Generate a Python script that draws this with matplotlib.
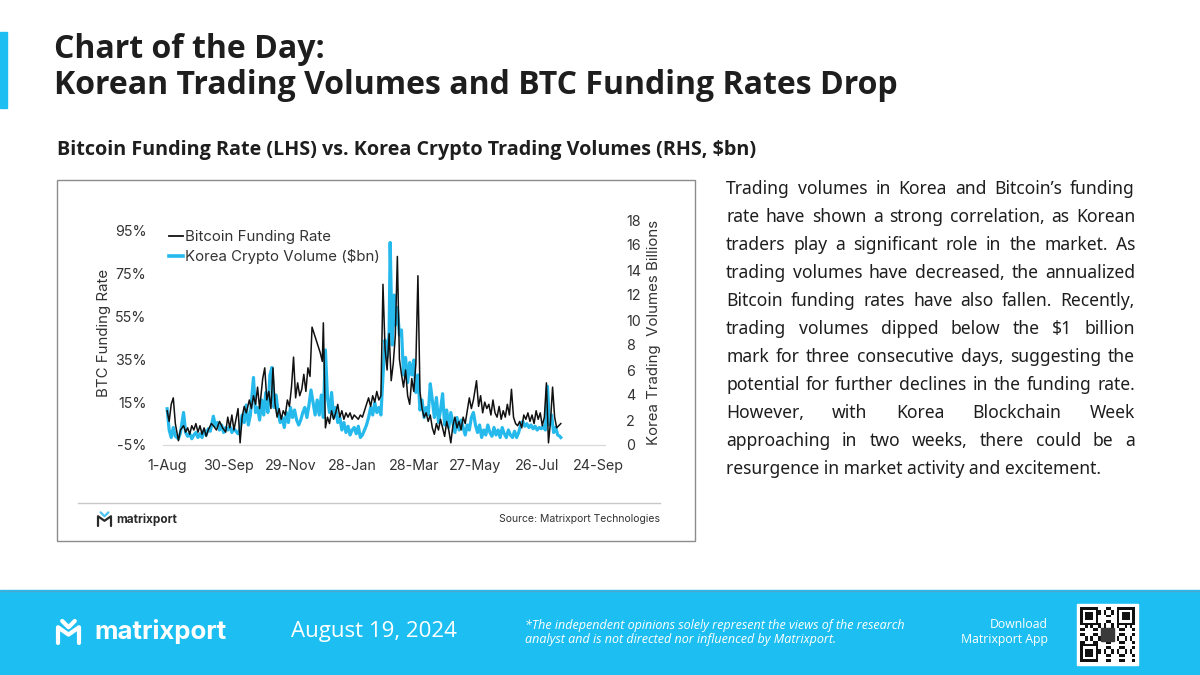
import matplotlib
matplotlib.use('Agg')
import matplotlib.pyplot as plt
import matplotlib.patches as mpatches
from matplotlib.lines import Line2D
import pandas as pd

W, H = 1200, 675

# Bitcoin funding rate (annualised, %), days since 1-Aug-2023
funding_day = [0, 2, 4, 6, 8, 11, 13, 16, 18, 20, 22, 24, 26, 28, 30, 32, 34, 36, 38, 40,
               43, 45, 48, 51, 54, 57, 59, 61, 63, 65, 67, 69, 71, 73, 75, 77, 80, 82, 84, 86,
               88, 90, 93, 95, 97, 99, 101, 103, 105, 107, 109, 111, 113, 115, 117, 119, 121, 123, 125, 127,
               129, 131, 133, 135, 137, 139, 141, 145, 149, 151, 152, 154, 156, 158, 160, 162, 164, 166, 168, 170,
               172, 174, 176, 178, 180, 182, 184, 186, 188, 190, 192, 194, 196, 198, 200, 202, 204, 206, 208, 210,
               212, 214, 216, 218, 220, 222, 224, 226, 228, 230, 232, 234, 236, 238, 240, 242, 244, 246, 248, 250,
               252, 254, 256, 258, 260, 262, 264, 266, 268, 270, 272, 274, 276, 278, 280, 282, 284, 286, 288, 290,
               292, 294, 296, 298, 301, 303, 305, 307, 309, 311, 313, 315, 317, 319, 321, 323, 325, 327, 329, 331,
               333, 335, 337, 339, 341, 343, 345, 347, 349, 351, 353, 355, 357, 359, 361, 363, 365, 367, 369, 371,
               373, 375, 377, 379, 381, 383]
funding_pct = [11, 6, 14, 17, 5, -3, 2, 4, 1, 3, 0, 4, 2, 5, 1, 4, 0, 3, -1, 2,
               5, 4, 2, 6, 3, 1, 8, 3, 9, 2, 7, 12, -4, 8, 13, 10, 16, 12, 18, 14,
               22, 12, 26, 31, 16, 20, 12, 31, 14, 8, 12, 7, 11, 9, 16, 13, 22, 36, 17, 24,
               18, 21, 28, 20, 31, 27, 50, 44, 38, 34, 52, 3, 8, 5, 11, 7, 10, 14, 8, 11,
               7, 10, 8, 10, 7, 9, 8, 7, 9, 8, 11, 14, 17, 13, 18, 15, 20, 16, 18, 70,
               40, 30, 47, 25, 33, 46, 83, 35, 28, 22, 30, 18, 14, 26, 20, 33, 74, 20, 12, 8,
               10, 6, 9, 3, 0, 5, 2, 7, 3, -1, 6, 2, -4, 4, 8, 3, 6, 2, 8, 5,
               11, 17, 12, 16, 25, 13, 18, 10, 15, 12, 14, 9, 16, 10, 8, 13, 7, 11, 8, 14,
               9, 21, 8, 5, 4, 6, 3, 9, 7, 10, 6, 9, 5, 11, 7, 10, 4, 8, 24, -4,
               6, 22, 8, 3, 4, 5]

# Korea crypto trading volume ($bn), days since 1-Aug-2023
volume_day = [0, 2, 4, 6, 8, 11, 13, 16, 18, 20, 22, 24, 26, 28, 30, 32, 34, 36, 38, 40,
              42, 45, 47, 49, 51, 53, 55, 57, 59, 61, 63, 65, 67, 69, 71, 73, 75, 77, 79, 81,
              84, 86, 88, 90, 92, 94, 96, 98, 100, 102, 104, 106, 108, 110, 112, 114, 116, 118, 120, 122,
              124, 126, 128, 130, 132, 134, 136, 138, 140, 142, 144, 146, 148, 150, 152, 154, 156, 158, 160, 162,
              164, 166, 168, 170, 172, 174, 176, 178, 180, 182, 184, 186, 188, 190, 192, 194, 196, 198, 200, 202,
              204, 206, 208, 210, 212, 214, 216, 217, 219, 221, 222, 224, 226, 228, 230, 232, 234, 236, 238, 240,
              242, 244, 246, 248, 250, 252, 254, 256, 258, 260, 262, 264, 266, 268, 270, 272, 274, 276, 278, 280,
              282, 284, 286, 288, 290, 292, 294, 296, 298, 300, 302, 304, 306, 308, 310, 312, 314, 316, 318, 320,
              322, 324, 326, 328, 330, 332, 334, 336, 338, 340, 342, 344, 346, 348, 350, 352, 354, 356, 358, 360,
              362, 364, 366, 368, 370, 372, 374, 376, 378, 380, 382, 383]
volume_bn = [2.9, 1.2, 0.6, 1.4, 0.7, 0.5, 1.0, 2.6, 1.0, 0.7, 0.9, 0.5, 0.8, 1.0, 0.6, 0.9, 0.6, 1.2, 0.8, 1.3,
             1.1, 2.3, 1.5, 1.8, 1.2, 1.6, 1.0, 1.4, 1.2, 1.5, 1.0, 1.3, 1.1, 0.9, 1.3, 2.4, 1.8, 3.2, 1.6, 2.4,
             5.4, 2.6, 3.0, 2.0, 3.6, 2.4, 4.2, 2.6, 5.6, 6.2, 3.0, 4.0, 2.6, 1.8, 2.2, 1.4, 2.6, 1.8, 3.0, 2.2,
             2.8, 2.0, 1.6, 2.0, 2.6, 3.0, 2.2, 3.2, 4.4, 3.4, 2.4, 3.6, 2.4, 4.0, 2.2, 7.6, 3.8, 2.6, 4.2, 2.2,
             3.0, 1.8, 2.2, 1.2, 1.8, 1.0, 1.5, 0.8, 1.2, 1.4, 0.9, 1.5, 0.6, 0.8, 1.2, 1.6, 2.2, 3.0, 2.4, 3.4,
             2.6, 3.0, 2.4, 5.5, 8.4, 7.0, 9.0, 16.2, 8.0, 12.0, 9.6, 11.0, 8.8, 9.2, 5.6, 7.0, 5.0, 6.6, 5.6, 6.8,
             4.2, 5.6, 2.8, 3.6, 2.2, 3.0, 2.4, 4.9, 3.6, 2.2, 3.8, 1.8, 2.8, 4.1, 1.6, 2.8, 1.4, 2.6, 1.8, 1.0,
             2.2, 1.2, 2.0, 1.4, 0.8, 1.6, 1.2, 2.2, 2.6, 1.6, 1.0, 1.6, 0.6, 1.2, 0.8, 1.6, 1.0, 0.7, 1.4, 0.8,
             1.2, 0.6, 1.4, 0.9, 0.6, 1.2, 0.8, 0.6, 1.1, 0.6, 1.0, 1.6, 1.9, 1.5, 1.7, 1.4, 1.6, 1.3, 1.5, 1.2,
             1.4, 1.3, 1.5, 1.2, 4.7, 1.6, 2.4, 1.0, 1.4, 0.8, 0.7, 0.6]

start = pd.Timestamp('2023-08-01')
tick_days = [0, 60, 120, 180, 240, 300, 360, 420]
tick_labels = ['1-Aug', '30-Sep', '29-Nov', '28-Jan', '28-Mar', '27-May', '26-Jul', '24-Sep']
left_ticks = [-5, 15, 35, 55, 75, 95]
right_ticks = [0, 2, 4, 6, 8, 10, 12, 14, 16, 18]

body_lines = [
    "Trading volumes in Korea and Bitcoin\u2019s funding",
    "rate have shown a strong correlation, as Korean",
    "traders play a significant role in the market. As",
    "trading volumes have decreased, the annualized",
    "Bitcoin funding rates have also fallen. Recently,",
    "trading volumes dipped below the $1 billion",
    "mark for three consecutive days, suggesting the",
    "potential for further declines in the funding rate.",
    "However, with Korea Blockchain Week",
    "approaching in two weeks, there could be a",
    "resurgence in market activity and excitement.",
]

CYAN = '#1dbff2'
LINE_BLUE = '#25b9ec'
DARK = '#1e1e1e'


def fx(x):
    return x / W


def fy(y):
    return 1 - y / H


fig = plt.figure(figsize=(12, 6.75), dpi=100)
fig.patch.set_facecolor('white')

# header
fig.patches.append(mpatches.Rectangle((0, fy(108)), fx(7), (108 - 32) / H,
                                      transform=fig.transFigure, color=CYAN, zorder=1))
fig.text(fx(54), fy(49), "Chart of the Day:", fontsize=23, fontweight='bold',
         family='Open Sans', color=DARK, va='center')
fig.text(fx(54), fy(85), "Korean Trading Volumes and BTC Funding Rates Drop", fontsize=23,
         fontweight='bold', family='Open Sans', color=DARK, va='center')
fig.text(fx(57), fy(150), "Bitcoin Funding Rate (LHS) vs. Korea Crypto Trading Volumes (RHS, $bn)",
         fontsize=14.2, fontweight='bold', family='Open Sans', color=DARK, va='center')

# chart frame
fig.patches.append(mpatches.Rectangle((fx(57), fy(541)), (695 - 57) / W, (541 - 180) / H,
                                      transform=fig.transFigure, fill=False,
                                      edgecolor='#8c8c8c', lw=1, zorder=1))
fig.add_artist(Line2D([fx(78), fx(660)], [fy(503), fy(503)], color='#c8c8c8', lw=1))
fig.text(fx(660), fy(519), "Source: Matrixport Technologies", fontsize=7.5, family='Inter',
         color='#333333', ha='right', va='center')


def logo(x0, y0, s, col, top_col, lw):
    # little "M" mark with a chevron on top
    xs = [x0, x0, x0 + s / 2, x0 + s, x0 + s]
    ys = [y0 + s, y0 + s * 0.25, y0 + s * 0.6, y0 + s * 0.25, y0 + s]
    fig.add_artist(Line2D([fx(v) for v in xs], [fy(v) for v in ys], color=col, lw=lw,
                          solid_joinstyle='round', solid_capstyle='round'))
    fig.add_artist(Line2D([fx(x0 + s * 0.2), fx(x0 + s / 2), fx(x0 + s * 0.8)],
                          [fy(y0 - s * 0.05), fy(y0 + s * 0.25), fy(y0 - s * 0.05)],
                          color=top_col, lw=lw, solid_joinstyle='round', solid_capstyle='round'))


logo(98, 513, 13, '#2a2a2a', '#4cc3ee', 1.6)
fig.text(fx(116), fy(520), "matrixport", fontsize=8.5, fontweight='bold', family='Inter',
         color='#2a2a2a', va='center')

# plot
ax = fig.add_axes([fx(163), fy(445), (605 - 163) / W, (445 - 220) / H])
ax2 = ax.twinx()
ax.set_zorder(ax2.get_zorder() + 1)
ax.patch.set_visible(False)

f_dates = start + pd.to_timedelta(funding_day, unit='D')
v_dates = start + pd.to_timedelta(volume_day, unit='D')
ax2.plot(v_dates, volume_bn, color=LINE_BLUE, lw=2.3, solid_joinstyle='round')
ax.plot(f_dates, funding_pct, color='#111111', lw=1.1, solid_joinstyle='round')

ax.set_xlim(start - pd.Timedelta(days=4), start + pd.Timedelta(days=426))
ax.set_ylim(-5, 100)
ax2.set_ylim(0, 18)
ax.set_xticks(start + pd.to_timedelta(tick_days, unit='D'))
ax.set_xticklabels(tick_labels)
ax.set_yticks(left_ticks)
ax.set_yticklabels([f"{v}%" for v in left_ticks])
ax2.set_yticks(right_ticks)

for a in (ax, ax2):
    for side in ('top', 'left', 'right'):
        a.spines[side].set_visible(False)
    a.spines['bottom'].set_color('#d9d9d9')
    a.tick_params(length=0, labelsize=10.3, labelcolor='#333333')
    for lab in a.get_xticklabels() + a.get_yticklabels():
        lab.set_family('Inter')
ax.tick_params(axis='x', pad=10)
ax.tick_params(axis='y', pad=12)
ax2.tick_params(axis='y', pad=15)

ax.set_ylabel("BTC Funding Rate", fontsize=10.8, family='Inter', color='#333333', labelpad=3)
ax2.set_ylabel("Korea Trading  Volumes Billions", fontsize=10.8, family='Inter',
               color='#333333', labelpad=4)

handles = [Line2D([], [], color='#111111', lw=1.3), Line2D([], [], color=LINE_BLUE, lw=2.6)]
leg = ax.legend(handles, ["Bitcoin Funding Rate", "Korea Crypto Volume ($bn)"], loc='upper left',
                bbox_to_anchor=(0.0, 0.98), frameon=False, handlelength=0.9, handletextpad=0.15,
                labelspacing=0.3, borderaxespad=0, prop={'family': 'Inter', 'size': 10.8})
for t in leg.get_texts():
    t.set_color('#333333')

# justified commentary on the right
renderer = fig.canvas.get_renderer()
x_left, x_right, y_first, step = 726, 1135, 189, 28
body_size = 12.6
for k, line in enumerate(body_lines):
    y = y_first + k * step
    if k == len(body_lines) - 1:
        fig.text(fx(x_left), fy(y), line, fontsize=body_size, family='Noto Sans', color=DARK,
                 va='center')
        continue
    words = line.split()
    texts = [fig.text(0, 0, w, fontsize=body_size, family='Noto Sans', color=DARK, va='center')
             for w in words]
    widths = [t.get_window_extent(renderer).width for t in texts]
    gap = (x_right - x_left - sum(widths)) / (len(words) - 1)
    x = x_left
    for t, w in zip(texts, widths):
        t.set_position((fx(x), fy(y)))
        x += w + gap

# footer band
fig.patches.append(mpatches.Rectangle((0, 0), 1, (675 - 590) / H, transform=fig.transFigure,
                                      color=CYAN, zorder=0))
fig.add_artist(Line2D([0, 1], [fy(590.5), fy(590.5)], color='#4aa9cf', lw=1))
logo(58, 622, 21, 'white', 'white', 3)
fig.text(fx(94), fy(632), "matrixport", fontsize=18.5, fontweight='bold', family='Inter',
         color='white', va='center')
fig.text(fx(291), fy(631), "August 19, 2024", fontsize=16, family='Open Sans',
         color='white', va='center')
fig.text(fx(525), fy(625), "*The independent opinions solely represent the views of the research",
         fontsize=9, style='italic', family='Open Sans', color='white', va='center')
fig.text(fx(525), fy(640), "analyst and is not directed nor influenced by Matrixport.",
         fontsize=9, style='italic', family='Open Sans', color='white', va='center')
fig.text(fx(1048), fy(625), "Download", fontsize=8.8, family='Open Sans', color='white',
         ha='right', va='center')
fig.text(fx(1048), fy(640), "Matrixport App", fontsize=8.8, family='Open Sans', color='white',
         ha='right', va='center')

# QR-style badge
qx, qy, qs = 1077, 604, 61
fig.patches.append(mpatches.Rectangle((fx(qx), fy(qy + qs)), qs / W, qs / H,
                                      transform=fig.transFigure, color='white', zorder=2))
cell = (qs - 6) / 21
for i in range(21):
    for j in range(21):
        in_finder = (i < 7 and j < 7) or (i < 7 and j > 13) or (i > 13 and j < 7)
        if in_finder:
            a, b = i % 14, j % 14
            dark = a in (0, 6) or b in (0, 6) or (2 <= a <= 4 and 2 <= b <= 4)
        else:
            dark = (i * 7 + j * 11 + i * j) % 5 < 2
        if dark:
            fig.patches.append(mpatches.Rectangle(
                (fx(qx + 3 + j * cell), fy(qy + 3 + (i + 1) * cell)), cell / W, cell / H,
                transform=fig.transFigure, color='#111111', zorder=3, lw=0))
fig.patches.append(mpatches.Rectangle((fx(qx + 24), fy(qy + 37)), 13 / W, 13 / H,
                                      transform=fig.transFigure, color='#3a3a3a', zorder=4))

fig.savefig('out.png', dpi=100)
